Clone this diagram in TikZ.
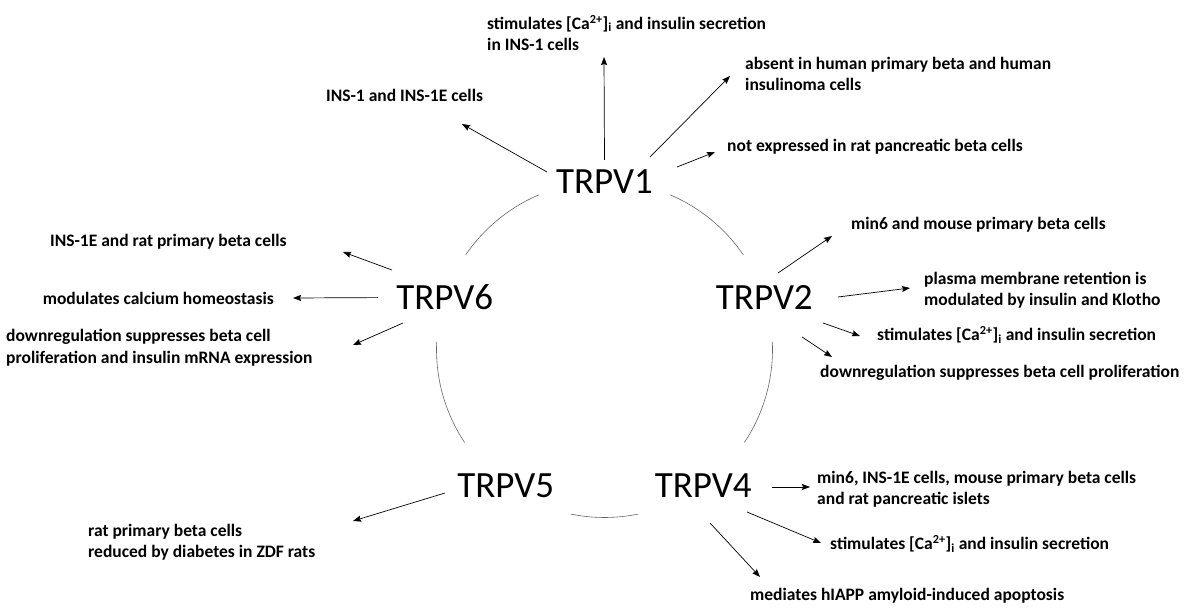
\documentclass[tikz,border=0pt]{standalone}
\usepackage{fontspec}
\setmainfont{Carlito}
\usetikzlibrary{arrows.meta}

\begin{document}
\begin{tikzpicture}[x=1pt, y=1pt, >={Stealth[length=8pt, width=6pt, inset=1pt]},
    chan/.style={font=\fontsize{37}{40}\selectfont, inner sep=2pt},
    lab/.style={font=\bfseries\fontsize{17.5}{21.5}\selectfont, inner sep=0pt, align=left},
    arr/.style={->, line width=0.7pt},
    ring/.style={line width=0.6pt, black!60}]
    \useasboundingbox (0,0) rectangle (1194,608);

    % Sentrum for ringen (r = 168)
    \coordinate (c) at (604.5,258.5);

    % Kanalene i femkant paa ringen
    \node[chan] (v1) at (604.5,426.5) {TRPV1};
    \node[chan] (v2) at (764.3,310.4) {TRPV2};
    \node[chan] (v4) at (703.2,122.6) {TRPV4};
    \node[chan] (v5) at (505.7,122.6) {TRPV5};
    \node[chan] (v6) at (444.7,310.4) {TRPV6};

    % Buer mellom kanalene
    \draw[ring] ([shift={(67:168pt)}]c) arc[start angle=67, end angle=34.3, radius=168pt];
    \draw[ring] ([shift={(113:168pt)}]c) arc[start angle=113, end angle=145.7, radius=168pt];
    \draw[ring] ([shift={(177.4:168pt)}]c) arc[start angle=177.4, end angle=213.6, radius=168pt];
    \draw[ring] ([shift={(2.6:168pt)}]c) arc[start angle=2.6, end angle=-33.6, radius=168pt];
    \draw[ring] ([shift={(258.4:168pt)}]c) arc[start angle=258.4, end angle=281.5, radius=168pt];

    % TRPV1
    \coordinate (h1a) at (604,551);
    \coordinate (h1b) at (462,484);
    \coordinate (h1c) at (730,532);
    \coordinate (h1d) at (715,456);
    \node[lab, anchor=west] (l1a) at (487,575) {stimulates [Ca\textsuperscript{2+}]\textsubscript{i} and insulin secretion\\in INS-1 cells};
    \node[lab, anchor=west] (l1b) at (326,513) {INS-1 and INS-1E cells};
    \node[lab, anchor=west] (l1c) at (745,534) {absent in human primary beta and human\\insulinoma cells};
    \node[lab, anchor=west] (l1d) at (727,461) {not expressed in rat pancreatic beta cells};
    \draw[arr] ([shift={(0,21.5)}]v1.center) -- (h1a);
    \draw[arr] ([shift={(-57.5,9.5)}]v1.center) -- (h1b);
    \draw[arr] ([shift={(45.5,24.5)}]v1.center) -- (h1c);
    \draw[arr] ([shift={(72.5,14.5)}]v1.center) -- (h1d);

    % TRPV2
    \coordinate (h2a) at (832,372);
    \coordinate (h2b) at (910,320);
    \coordinate (h2c) at (860,272);
    \coordinate (h2d) at (832,251);
    \node[lab, anchor=west] (l2a) at (851,383) {min6 and mouse primary beta cells};
    \node[lab, anchor=west] (l2b) at (924,318) {plasma membrane retention is\\modulated by insulin and Klotho};
    \node[lab, anchor=west] (l2c) at (877,273) {stimulates [Ca\textsuperscript{2+}]\textsubscript{i} and insulin secretion};
    \node[lab, anchor=west] (l2d) at (820,235) {downregulation suppresses beta cell proliferation};
    \draw[arr] ([shift={(13.7,24.6)}]v2.center) -- (h2a);
    \draw[arr] ([shift={(73.7,0.6)}]v2.center) -- (h2b);
    \draw[arr] ([shift={(58.7,-25.4)}]v2.center) -- (h2c);
    \draw[arr] ([shift={(37.7,-39.4)}]v2.center) -- (h2d);

    % TRPV4
    \coordinate (h4a) at (810,121);
    \coordinate (h4b) at (821,65);
    \coordinate (h4c) at (760,31);
    \node[lab, anchor=west] (l4a) at (817,119) {min6, INS-1E cells, mouse primary beta cells\\and rat pancreatic islets};
    \node[lab, anchor=west] (l4b) at (830,64) {stimulates [Ca\textsuperscript{2+}]\textsubscript{i} and insulin secretion};
    \node[lab, anchor=west] (l4c) at (750,12) {mediates hIAPP amyloid-induced apoptosis};
    \draw[arr] ([shift={(68.8,-1.6)}]v4.center) -- (h4a);
    \draw[arr] ([shift={(43.8,-26.6)}]v4.center) -- (h4b);
    \draw[arr] ([shift={(6.8,-37.6)}]v4.center) -- (h4c);

    % TRPV5
    \coordinate (h5a) at (353,87);
    \node[lab, anchor=west] (l5a) at (88,66) {rat primary beta cells\\reduced by diabetes in ZDF rats};
    \draw[arr] ([shift={(-60.7,-7.6)}]v5.center) -- (h5a);

    % TRPV6
    \coordinate (h6a) at (343,356);
    \coordinate (h6b) at (293,310);
    \coordinate (h6c) at (353,263);
    \node[lab, anchor=west] (l6a) at (50,366) {INS-1E and rat primary beta cells};
    \node[lab, anchor=east] (l6b) at (274,310) {modulates calcium homeostasis};
    \node[lab, anchor=west] (l6c) at (6,260.5) {downregulation suppresses beta cell\\proliferation and insulin mRNA expression};
    \draw[arr] ([shift={(-52.7,27.6)}]v6.center) -- (h6a);
    \draw[arr] ([shift={(-66.7,0)}]v6.center) -- (h6b);
    \draw[arr] ([shift={(-41.7,-25.4)}]v6.center) -- (h6c);
\end{tikzpicture}
\end{document}
